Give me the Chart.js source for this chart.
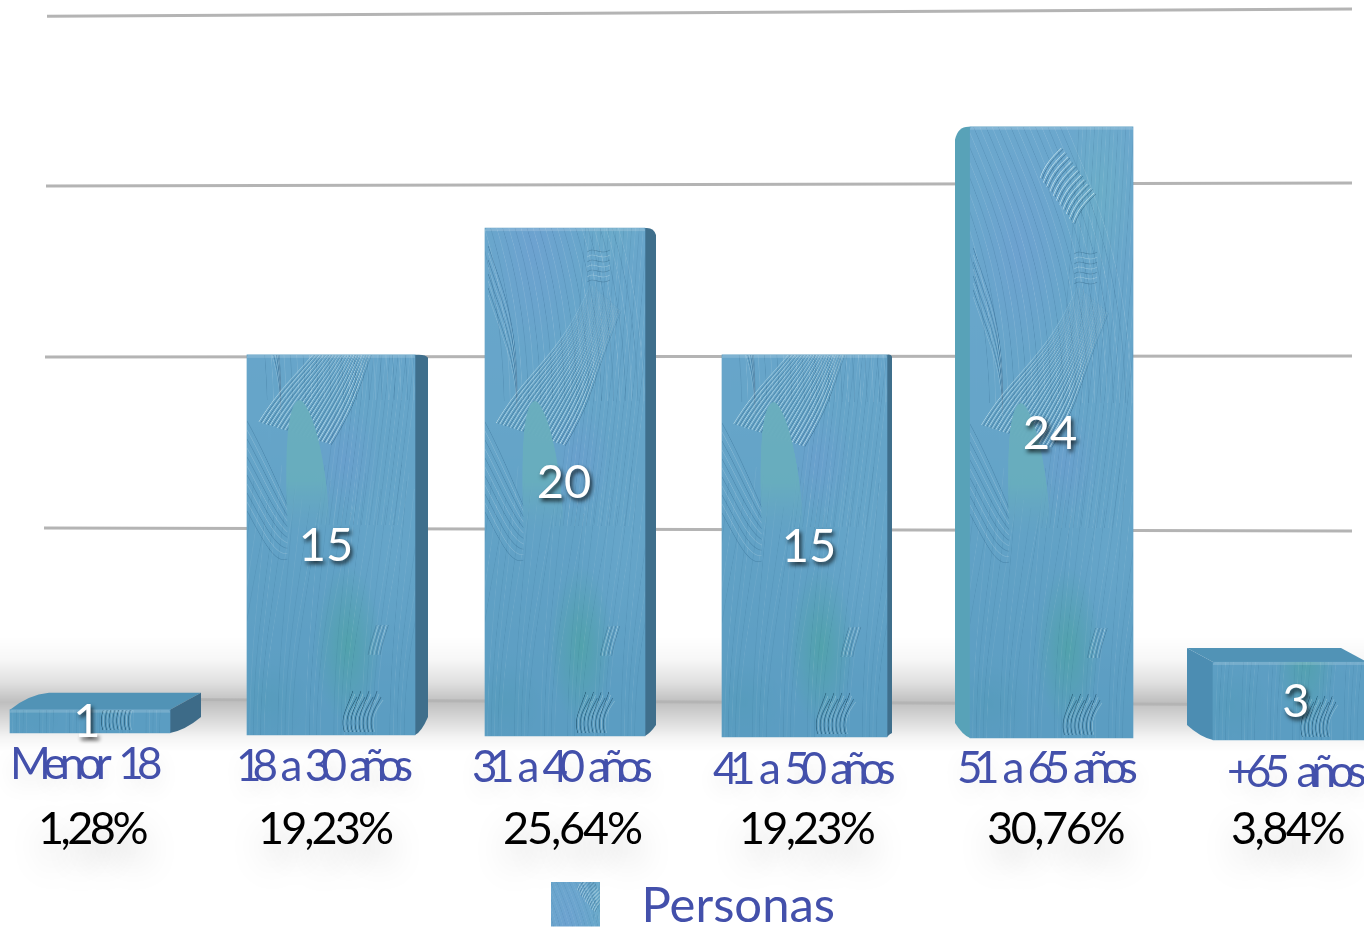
<!DOCTYPE html>
<html lang="es">
<head>
<meta charset="utf-8">
<title>Personas</title>
<style>
html,body{margin:0;padding:0;background:#fff;overflow:hidden;width:1364px;height:927px}
#wrap{position:absolute;left:-30px;top:0;width:1440px;height:941px}
</style>
<script src="https://cdn.jsdelivr.net/npm/chart.js@4"></script>
</head>
<body>
<div id="wrap"><canvas id="c" width="1440" height="941"></canvas></div>
<script>
const categories = ['Menor 18', '18 a 30 años', '31 a 40 años', '41 a 50 años', '51 a 65 años', '+65 años'];
const personas = [1, 15, 20, 15, 24, 3];
const percentages = ['1,28%', '19,23%', '25,64%', '19,23%', '30,76%', '3,84%'];
const seriesName = 'Personas';

// Slanted guide lines, in value units at their left and right end
const gridLeft  = [1.42, 8.17, 14.91, 21.66, 28.36];
const gridRight = [1.18, 8.05, 14.95, 21.78, 28.64];

// Layout tweaks (pixels)
const frontShift = [0, 1, -5, -5.5, 1.5, 0];
const frontWidth = [160, 168, 160, 165, 163, 154];
const baseShift  = [-2, 0, 1, 2, 3, 5];
const topShift   = [0, 0, 0, 0, 0, 3];
const sideDepth  = [31, 13, 11, 5, -15, -26];
const topDepth   = [17, 1, 1, 1, 1, 14];
const sideTopDrop = [-17, 3, 7, 2, 13, -14];
const sideLift   = [16, 18, 11, 4, 15, 15];
const sideColor  = ['#3d6b88', '#3f6f8c', '#3f6f8c', '#3f6f8c', '#58a2b8', '#4c8db2'];
const catOffset  = [-4, -4.5, -6.5, -4.5, -1.5, 6.5];
const catBaseline = [779, 781, 782, 784, 783, 787];
const catWidth   = [148, 175, 179, 181, 179, 135];
const pctOffset  = [3.5, -3.5, 4, -2, 7, -1];
const pctBaseline = 844;
const pctWidth   = [107, 133, 138, 134, 136, 112];
const valOffset  = [-3, -4, -6, -1, 0, 6];

const BLUE = '#4350ab';

// Painted brush texture: 2x scale, covers page y 120..740, anchored at each bar's foot
const TW = 340, TH = 1240;
const U = u => u * TW;
const Y = p => (p - 120) * 2;

function blob(g, u, p, ru, rp, col) {
  g.save(); g.translate(U(u), Y(p)); g.scale(U(ru), rp * 2);
  const r = g.createRadialGradient(0, 0, 0, 0, 0, 1);
  r.addColorStop(0, col); r.addColorStop(1, col.replace(/[\d.]+\)$/, '0)'));
  g.fillStyle = r; g.beginPath(); g.arc(0, 0, 1, 0, 7); g.fill(); g.restore();
}
function curve(g, col, w, pts) {
  g.strokeStyle = col; g.lineWidth = w;
  g.beginPath();
  g.moveTo(U(pts[0]), Y(pts[1]));
  g.bezierCurveTo(U(pts[2]), Y(pts[3]), U(pts[4]), Y(pts[5]), U(pts[6]), Y(pts[7]));
  g.stroke();
}
function fade(g, stops) {
  const l = g.createLinearGradient(0, Y(stops[0][0]), 0, Y(stops[stops.length - 1][0]));
  const a = stops[0][0], b = stops[stops.length - 1][0];
  stops.forEach(s => l.addColorStop((s[0] - a) / (b - a), s[1]));
  return l;
}

function makeTexture() {
  const c = document.createElement('canvas'); c.width = TW; c.height = TH;
  const g = c.getContext('2d');
  const bg = g.createLinearGradient(0, 0, 0, TH);
  bg.addColorStop(0, '#6ca8ce'); bg.addColorStop(.5, '#66a5c9'); bg.addColorStop(1, '#5b9dc2');
  g.fillStyle = bg; g.fillRect(0, 0, TW, TH);

  // tints
  blob(g, .3, 250, .3, 110, 'rgba(125,145,225,.20)');
  blob(g, .8, 190, .25, 90, 'rgba(110,190,190,.28)');
  blob(g, .58, 465, .22, 55, 'rgba(125,145,225,.20)');
  blob(g, .85, 560, .3, 120, 'rgba(120,180,215,.22)');
  blob(g, .6, 650, .2, 80, 'rgba(70,165,150,.50)');
  blob(g, .12, 705, .25, 40, 'rgba(70,150,170,.22)');

  // foot brushing: arcs that rise out of the base
  for (let i = 0; i < 38; i++) {
    const u = i / 30 - .1;
    const bow = .05 + (i % 5) * .012;
    curve(g, i % 2 ? 'rgba(255,255,255,.09)' : 'rgba(20,70,110,.11)', 1.2,
      [u - bow, 742, u - bow, 660, u, 600, u + bow, 470 + (i % 7) * 8]);
  }
  // right-hand streaks climbing to the top
  for (let i = 0; i < 20; i++) {
    const u = .62 + i * .024;
    curve(g, i % 2 ? 'rgba(255,255,255,.10)' : 'rgba(20,70,110,.13)', 1.2,
      [u - .18, 530, u - .1, 430, u - .02, 330, u + .05, 125]);
  }
  // big folds from the upper left
  for (let i = 0; i < 24; i++) {
    const o = i * .038;
    curve(g, i % 2 ? 'rgba(255,255,255,.14)' : 'rgba(25,75,115,.18)', 1.3,
      [o - .3, 122, o - .1, 200, o + .1, 270, o + .12, 405]);
  }
  // darker left folds
  for (let i = 0; i < 8; i++) {
    const o = i * 7;
    curve(g, i % 2 ? 'rgba(255,255,255,.18)' : 'rgba(20,70,110,.34)', 1.3,
      [.02, 250 + o, .1, 290 + o, .2, 320 + o, .2, 395 + o * .5]);
  }
  // lower-left folds
  for (let i = 0; i < 11; i++) {
    const o = i * 9;
    curve(g, i % 2 ? 'rgba(255,255,255,.2)' : 'rgba(20,70,110,.26)', 1.3,
      [0, 426 + o, .08, 450 + o, .16, 480 + o, .24, 510 + o * .6]);
  }
  // bright S-shaped hatch band rising to the upper right
  const light = fade(g, [[285, 'rgba(228,246,246,.08)'], [380, 'rgba(228,246,246,.5)'], [470, 'rgba(232,248,248,.85)']]);
  const dark = fade(g, [[285, 'rgba(25,70,100,.08)'], [380, 'rgba(25,70,100,.32)'], [470, 'rgba(25,70,100,.55)']]);
  for (let i = 0; i < 20; i++) {
    const s = i / 19;
    const u0 = .07 + s * .42, p0 = 427 + s * 22;
    const u3 = .66 + s * .18, p3 = 288 + s * 26;
    const pts = [u0, p0, u0 + .2, p0 - 55, u3 - .2, p3 + 75, u3, p3];
    curve(g, light, 1.2, pts);
    curve(g, dark, 1.2, pts.map((v, k) => k % 2 ? v + .6 : v + .012));
  }
  // teal tongue, fading down into the paint
  const tg = g.createLinearGradient(0, Y(405), 0, Y(540));
  tg.addColorStop(0, 'rgba(106,174,190,1)');
  tg.addColorStop(.6, 'rgba(104,174,190,.92)');
  tg.addColorStop(1, 'rgba(100,165,195,0)');
  g.fillStyle = tg;
  g.beginPath();
  g.moveTo(U(.24), Y(540));
  g.bezierCurveTo(U(.23), Y(480), U(.22), Y(410), U(.31), Y(405));
  g.bezierCurveTo(U(.38), Y(405), U(.49), Y(470), U(.49), Y(540));
  g.closePath(); g.fill();
  // small waves
  for (let i = 0; i < 7; i++) {
    const p = 254 + i * 5;
    curve(g, i % 2 ? 'rgba(230,245,245,.4)' : 'rgba(25,70,100,.4)', 1.2,
      [.64, p + 2, .68, p - 4, .72, p + 6, .78, p]);
  }
  // upper hatch patch
  for (let i = 0; i < 11; i++) {
    const s = i / 10;
    const u0 = .43 + s * .2, p0 = 180 + s * 45;
    curve(g, 'rgba(228,246,246,.7)', 1.4, [u0, p0, u0 + .03, p0 - 14, u0 + .08, p0 - 22, u0 + .13, p0 - 30]);
    curve(g, 'rgba(25,70,100,.45)', 1.4, [u0 + .012, p0 + 1, u0 + .042, p0 - 13, u0 + .092, p0 - 21, u0 + .142, p0 - 29]);
  }
  // foot hatch
  for (let i = 0; i < 16; i++) {
    const u = .58 + i * .012;
    curve(g, i % 2 ? 'rgba(220,240,240,.3)' : 'rgba(15,60,85,.55)', 1.5,
      [u, 737, u - .03, 722, u + .02, 712, u + .05, 696 + (i % 4) * 3]);
  }
  for (let i = 0; i < 7; i++) {
    const u = .72 + i * .012;
    curve(g, i % 2 ? 'rgba(230,245,245,.4)' : 'rgba(25,70,100,.3)', 1.3,
      [u, 660, u + .01, 650, u + .03, 640, u + .05, 630]);
  }
  return c;
}

const texture = makeTexture();

function makeSwatch() {
  const c = document.createElement('canvas'); c.width = 72; c.height = 52;
  const g = c.getContext('2d');
  g.drawImage(texture, 40, 80, 200, 188, 6, 0, 49, 46);
  return c;
}

function fitText(ctx, text, x, y, width) {
  const spaces = text.split(' ').length - 1;
  const gap = spaces ? 9 : 0;
  ctx.letterSpacing = '0px';
  ctx.wordSpacing = '0px';
  const w = ctx.measureText(text).width;
  const sp = (width - w - (gap + 2.3) * spaces) / text.length;
  ctx.letterSpacing = sp.toFixed(3) + 'px';
  ctx.wordSpacing = gap + 'px';
  ctx.textAlign = 'left';
  ctx.fillText(text, x - width / 2 - 2, y);
  ctx.letterSpacing = '0px';
  ctx.wordSpacing = '0px';
}

const threeD = {
  id: 'threeD',
  afterDatasetsUpdate(chart) {
    chart.getDatasetMeta(0).data.forEach((el, i) => {
      el.x += frontShift[i];
      el.width = frontWidth[i];
      el.base += baseShift[i];
      el.y += topShift[i];
    });
  },
  beforeDatasetsDraw(chart) {
    const ctx = chart.ctx, y = chart.scales.y, area = chart.chartArea;
    ctx.save();
    // floor shadow
    const floorY = y.getPixelForValue(1.3);
    const grad = ctx.createLinearGradient(0, floorY - 66, 0, floorY + 50);
    grad.addColorStop(0, 'rgba(0,0,0,0)');
    grad.addColorStop(.2, 'rgba(0,0,0,.03)');
    grad.addColorStop(.4, 'rgba(0,0,0,.12)');
    grad.addColorStop(.57, 'rgba(0,0,0,.25)');
    grad.addColorStop(.72, 'rgba(0,0,0,.15)');
    grad.addColorStop(.88, 'rgba(0,0,0,.04)');
    grad.addColorStop(1, 'rgba(0,0,0,0)');
    ctx.fillStyle = grad;
    ctx.fillRect(area.left, floorY - 66, area.right - area.left, 116);
    // guide lines
    const xs = chart.scales.x;
    const x0 = xs.getPixelForValue(0), x5 = xs.getPixelForValue(5);
    gridLeft.forEach((v, i) => {
      ctx.strokeStyle = '#b4b4b4';
      ctx.lineWidth = 3;
      ctx.beginPath();
      ctx.moveTo(x0 - 47 + i, y.getPixelForValue(v));
      ctx.lineTo(x5 + 62, y.getPixelForValue(gridRight[i]));
      ctx.stroke();
    });
    // side and top faces
    chart.getDatasetMeta(0).data.forEach((el, i) => {
      const d = sideDepth[i], td = topDepth[i];
      const l = el.x - el.width / 2, r = el.x + el.width / 2;
      const edge = d > 0 ? r : l;
      const far = edge + d;
      const bot = el.base, top = el.y;
      // top face
      if (td > 2) {
        ctx.fillStyle = '#5193b6';
        ctx.beginPath();
        ctx.moveTo(l, top);
        if (d > 0) ctx.quadraticCurveTo(l + 18, top - td + 2, l + d + 8, top - td);
        else ctx.lineTo(l + d, top - td);
        ctx.lineTo(r + d, top - td);
        ctx.lineTo(r, top);
        ctx.closePath();
        ctx.fill();
      }
      // side face
      ctx.fillStyle = sideColor[i];
      ctx.beginPath();
      ctx.moveTo(edge, top);
      if (td > 2) ctx.lineTo(far, top - td);
      else ctx.quadraticCurveTo(edge + d * .8, top - 1, far, top + sideTopDrop[i]);
      ctx.lineTo(far, bot - sideLift[i]);
      ctx.quadraticCurveTo(edge + d * .5, bot - 3, edge, bot);
      ctx.closePath();
      ctx.fill();
    });
    ctx.restore();
  },
  afterDatasetsDraw(chart) {
    const ctx = chart.ctx, xs = chart.scales.x;
    ctx.save();
    // brush texture over each front face
    chart.getDatasetMeta(0).data.forEach((el, i) => {
      const l = el.x - el.width / 2, w = el.width, t = el.y, h = el.base - el.y;
      ctx.save();
      ctx.beginPath();
      ctx.roundRect(l, t, w, h, [2, 2, 3, 3]);
      ctx.clip();
      ctx.drawImage(texture, 0, TH - h * 2, TW, h * 2, l, t, w, h);
      ctx.fillStyle = 'rgba(255,255,255,.16)';
      ctx.fillRect(l, t, w, 3);
      ctx.restore();
    });
    // values on bars
    ctx.font = '47px Lato';
    ctx.textBaseline = 'middle';
    ctx.textAlign = 'center';
    ctx.fillStyle = '#fff';
    ctx.shadowColor = 'rgba(0,0,0,.75)';
    ctx.shadowBlur = 4; ctx.shadowOffsetX = 2; ctx.shadowOffsetY = 3;
    chart.getDatasetMeta(0).data.forEach((el, i) => {
      const cx = xs.getPixelForValue(i) + valOffset[i];
      ctx.fillText(String(personas[i]), cx, (el.y + el.base) / 2 + 1);
    });
    // category labels
    ctx.textBaseline = 'alphabetic';
    ctx.font = '44px Lato';
    ctx.fillStyle = BLUE;
    ctx.shadowColor = 'rgba(0,0,0,.10)';
    ctx.shadowBlur = 22; ctx.shadowOffsetX = 0; ctx.shadowOffsetY = 10;
    categories.forEach((c, i) => {
      fitText(ctx, c, xs.getPixelForValue(i) + catOffset[i], catBaseline[i], catWidth[i]);
    });
    // percentages
    ctx.fillStyle = '#000';
    ctx.font = '45px Lato';
    ctx.shadowColor = 'rgba(0,0,0,.26)';
    ctx.shadowBlur = 34; ctx.shadowOffsetY = 18;
    percentages.forEach((p, i) => {
      fitText(ctx, p, xs.getPixelForValue(i) + pctOffset[i], pctBaseline, pctWidth[i]);
    });
    ctx.restore();
  }
};

const swatch = makeSwatch();

new Chart(document.getElementById('c'), {
  type: 'bar',
  data: {
    labels: categories,
    datasets: [{
      label: seriesName,
      data: personas,
      backgroundColor: '#5f9fc4',
      barThickness: 163,
      clip: false
    }]
  },
  options: {
    responsive: false,
    animation: false,
    layout: { padding: 0 },
    scales: {
      x: {
        grid: { display: false },
        border: { display: false },
        ticks: { display: false },
        afterFit(s) { s.height = 147; }
      },
      y: {
        display: false,
        min: 0,
        max: 29
      }
    },
    plugins: {
      tooltip: { enabled: false },
      legend: {
        position: 'bottom',
        labels: {
          usePointStyle: true,
          pointStyleWidth: 72,
          boxHeight: 46,
          padding: 0,
          color: BLUE,
          font: { family: 'Lato', size: 49, lineHeight: 1 },
          generateLabels: () => [{
            text: seriesName,
            fontColor: BLUE,
            pointStyle: swatch,
            datasetIndex: 0
          }]
        }
      }
    }
  },
  plugins: [threeD]
});
</script>
</body>
</html>
